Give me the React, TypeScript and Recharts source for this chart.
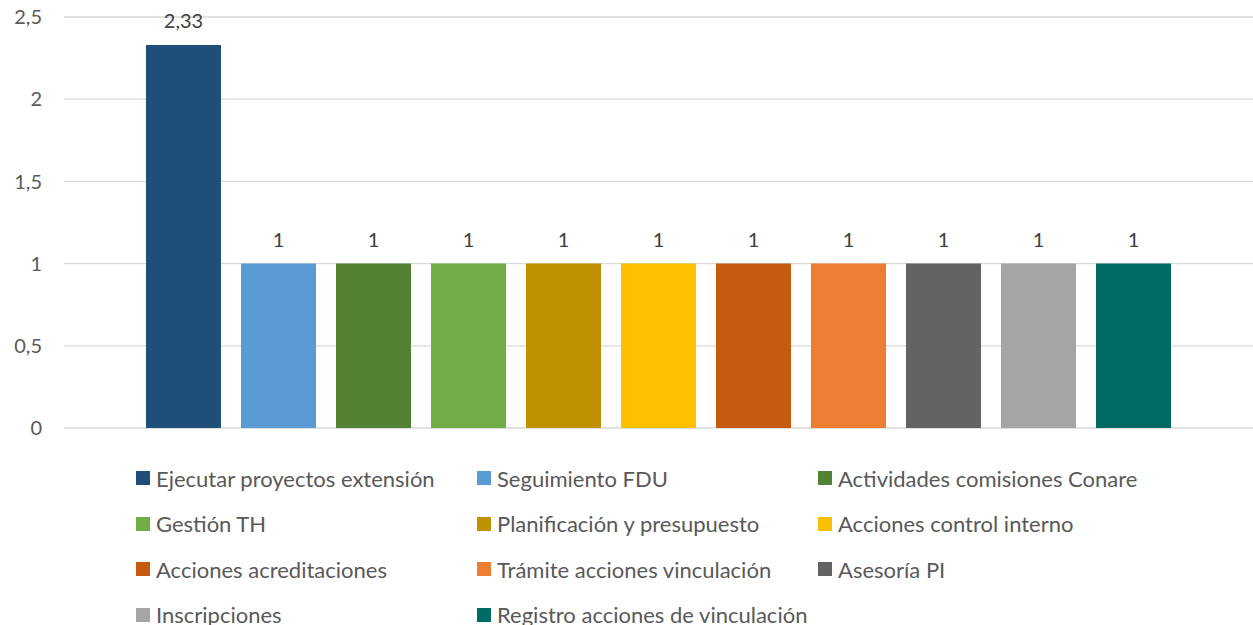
import React from 'react';
import { BarChart, Bar, XAxis, YAxis, CartesianGrid, LabelList } from 'recharts';

const seriesNames = [
  'Ejecutar proyectos extensión',
  'Seguimiento FDU',
  'Actividades comisiones Conare',
  'Gestión TH',
  'Planificación y presupuesto',
  'Acciones control interno',
  'Acciones acreditaciones',
  'Trámite acciones vinculación',
  'Asesoría PI',
  'Inscripciones',
  'Registro acciones de vinculación',
];
const seriesValues = [2.33, 1, 1, 1, 1, 1, 1, 1, 1, 1, 1];
const seriesColors = [
  '#1F4E79', '#5B9BD5', '#548235', '#70AD47', '#BF9000', '#FFC000',
  '#C55A11', '#ED7D31', '#636363', '#A5A5A5', '#006A65',
];
const yTicks = [0, 0.5, 1, 1.5, 2, 2.5];

const row: Record<string, any> = { name: '' };
seriesNames.forEach((n, i) => { row['s' + i] = seriesValues[i]; });
const data = [row];

const fmt = (v: any) => String(v).replace('.', ',');
const FONT = 'Lato, "Open Sans", sans-serif';

const LegendBlock = () => (
  <div style={{ position: 'absolute', left: 0, top: 463, width: 1253, height: 162 }}>
    {seriesNames.map((n, i) => {
      const col = i % 3;
      const r = Math.floor(i / 3);
      const left = 136 + col * 341;
      const top = r * 45.5;
      return (
        <div key={n} style={{ position: 'absolute', left, top, display: 'flex', alignItems: 'center', height: 30, whiteSpace: 'nowrap' }}>
          <span style={{ display: 'inline-block', width: 14, height: 14, background: seriesColors[i], marginRight: 6 }} />
          <span style={{ fontFamily: FONT, fontSize: 22, color: '#595959' }}>{n}</span>
        </div>
      );
    })}
  </div>
);

export default function App() {
  return (
    <div style={{ position: 'absolute', left: 0, top: 0, width: 1253, height: 625, background: '#fff', overflow: 'hidden' }}>
      <BarChart
        width={1253}
        height={625}
        data={data}
        margin={{ top: 17, right: 0, left: 0, bottom: 197 }}
        barGap={20}
        barSize={75}
      >
        <CartesianGrid vertical={false} stroke="#d9d9d9" strokeWidth={1.3} />
        <XAxis dataKey="name" hide />
        <YAxis
          width={64}
          domain={[0, 2.5]}
          ticks={yTicks}
          interval={0}
          axisLine={false}
          tickLine={false}
          tickSize={0}
          tickMargin={22}
          tickFormatter={fmt}
          tick={{ fontFamily: FONT, fontSize: 20, fill: '#595959' }}
        />
        {seriesNames.map((n, i) => (
          <Bar key={n} dataKey={'s' + i} name={n} fill={seriesColors[i]} isAnimationActive={false}>
            <LabelList
              dataKey={'s' + i}
              position="top"
              offset={17}
              formatter={fmt}
              style={{ fontFamily: FONT, fontSize: 20, fill: '#404040' }}
            />
          </Bar>
        ))}
      </BarChart>
      <LegendBlock />
    </div>
  );
}
